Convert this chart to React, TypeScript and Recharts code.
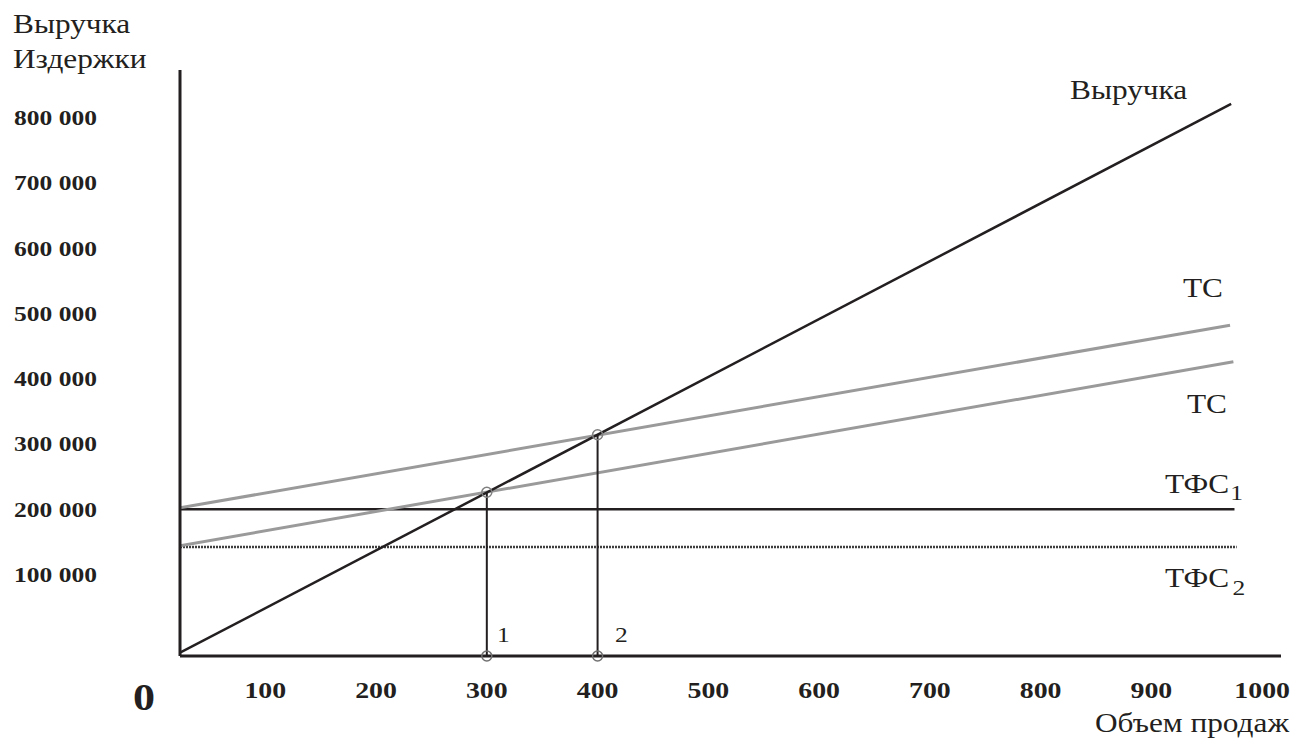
import { LineChart, Line, XAxis, YAxis, ReferenceLine, ReferenceDot } from 'recharts';

// sales volume ticks and money ticks
const quantityTicks = [100, 200, 300, 400, 500, 600, 700, 800, 900, 1000];
const moneyTicks = [100000, 200000, 300000, 400000, 500000, 600000, 700000, 800000];

// series
const revenueLine = [{ q: 23, v: -20000 }, { q: 972, v: 821000 }];
const totalCostUpper = [{ q: 23, v: 202000 }, { q: 971, v: 482000 }];
const totalCostLower = [{ q: 23, v: 144000 }, { q: 974, v: 426000 }];
const fixedCostUpper = [{ q: 23, v: 200000 }, { q: 975, v: 200000 }];
const fixedCostLower = [{ q: 23, v: 142000 }, { q: 977, v: 142000 }];

// break-even points
const breakEvenQ = [300, 400];
const breakEvenV = [226000, 314000];

const X_DOMAIN: [number, number] = [23, 1017];
const Y_DOMAIN: [number, number] = [-25000, 873000];

const FONT = '"Liberation Serif", "Times New Roman", serif';
const INK = '#231f20';
const GREY = '#9a9a9a';
const STRETCH = 1.16; // the scan is a bit wide, glyphs look stretched

const fmtMoney = (v: number) => `${Math.round(v / 1000)} 000`;

// text stretched horizontally around its anchor point
const SText = ({ x, y, anchor = 'start', size = 27, bold = false, children }: any) => (
    <text
        transform={`translate(${x} ${y}) scale(${STRETCH} 1)`}
        textAnchor={anchor}
        fontFamily={FONT}
        fontSize={size}
        fontWeight={bold ? 'bold' : 'normal'}
        fill={INK}
    >
        {children}
    </text>
);

const XTick = (props: any) => (
    <SText x={props.x} y={698} anchor="middle" size={24} bold>
        {props.payload.value}
    </SText>
);

const YTick = (props: any) => (
    <SText x={14} y={props.y + 7.5} size={22} bold>
        {fmtMoney(props.payload.value)}
    </SText>
);

export default function App() {
    return (
        <div style={{ position: 'absolute', left: 0, top: 0, width: 1307, height: 756, background: '#fff' }}>
            <LineChart width={1307} height={756} margin={{ top: 70, right: 26, bottom: 99, left: 179 }}>
                <XAxis
                    type="number"
                    dataKey="q"
                    domain={X_DOMAIN}
                    allowDataOverflow
                    ticks={quantityTicks}
                    height={1}
                    tickLine={false}
                    axisLine={false}
                    tick={XTick}
                />
                <YAxis
                    type="number"
                    dataKey="v"
                    domain={Y_DOMAIN}
                    allowDataOverflow
                    ticks={moneyTicks}
                    width={1}
                    tickLine={false}
                    axisLine={false}
                    tick={YTick}
                />
                <Line data={fixedCostLower} dataKey="v" stroke="#3e3e3e" strokeWidth={2.5} strokeDasharray="2 1" dot={false} isAnimationActive={false} />
                <Line data={fixedCostUpper} dataKey="v" stroke={INK} strokeWidth={2.5} dot={false} isAnimationActive={false} />
                <Line data={totalCostUpper} dataKey="v" stroke={GREY} strokeWidth={3} dot={false} isAnimationActive={false} />
                <Line data={totalCostLower} dataKey="v" stroke={GREY} strokeWidth={3} dot={false} isAnimationActive={false} />
                <Line data={revenueLine} dataKey="v" stroke={INK} strokeWidth={2.5} dot={false} isAnimationActive={false} />
                {breakEvenQ.map((q, i) => (
                    <ReferenceLine
                        key={`drop-${q}`}
                        segment={[{ x: q, y: Y_DOMAIN[0] }, { x: q, y: breakEvenV[i] }]}
                        stroke={INK}
                        strokeWidth={2}
                        ifOverflow="visible"
                    />
                ))}
                {/* axes drawn as lines along the plot edges */}
                <ReferenceLine x={X_DOMAIN[0]} stroke={INK} strokeWidth={3} ifOverflow="visible" />
                <ReferenceLine y={Y_DOMAIN[0]} stroke={INK} strokeWidth={3} ifOverflow="visible" />
                {breakEvenQ.map((q, i) => (
                    <ReferenceDot key={`top-${q}`} x={q} y={breakEvenV[i]} r={5} fill="none" stroke="#808080" strokeWidth={1.5} ifOverflow="visible" />
                ))}
                {breakEvenQ.map((q) => (
                    <ReferenceDot key={`bot-${q}`} x={q} y={Y_DOMAIN[0]} r={5} fill="none" stroke="#707070" strokeWidth={1.5} ifOverflow="visible" />
                ))}
            </LineChart>

            {/* annotations */}
            <svg width={1307} height={756} style={{ position: 'absolute', left: 0, top: 0, pointerEvents: 'none' }}>
                <SText x={13} y={33}>Выручка</SText>
                <SText x={13} y={68}>Издержки</SText>
                <SText x={1070} y={99}>Выручка</SText>
                <SText x={1183} y={297}>TC</SText>
                <SText x={1187} y={413}>TC</SText>
                <SText x={1165} y={493}>
                    ТФС<tspan fontSize={22} dy={7} dx={1}>1</tspan>
                </SText>
                <SText x={1165} y={587}>
                    ТФС<tspan fontSize={22} dy={8} dx={3}>2</tspan>
                </SText>
                <SText x={1095} y={732}>Объем продаж</SText>
                <SText x={144} y={710} anchor="middle" size={38} bold>0</SText>
                <SText x={497} y={642} size={22}>1</SText>
                <SText x={615} y={642} size={22}>2</SText>
            </svg>
        </div>
    );
}
